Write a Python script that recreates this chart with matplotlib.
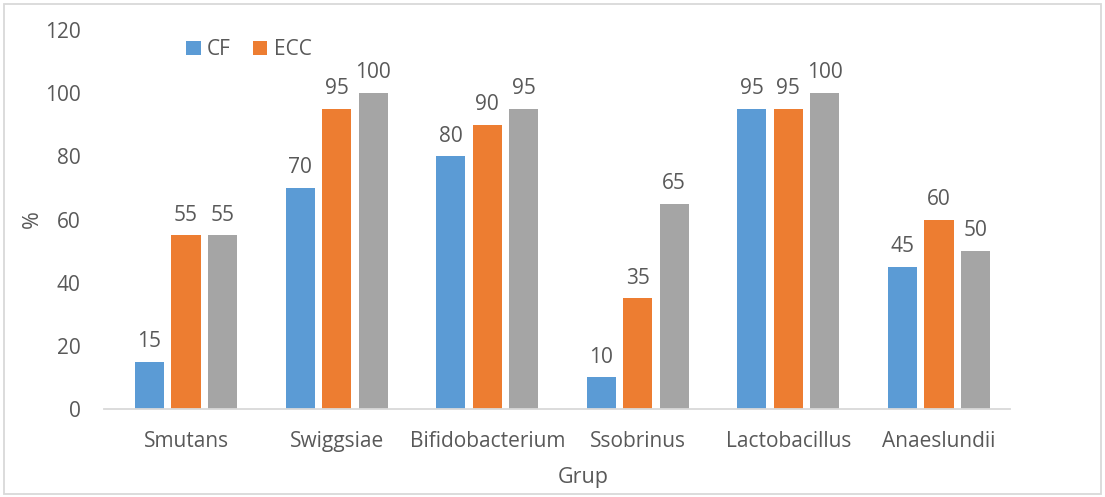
import numpy as np
import matplotlib.pyplot as plt
from matplotlib.patches import Rectangle

plt.rcParams['font.family'] = ['Open Sans', 'DejaVu Sans']

groups = ['Smutans', 'Swiggsiae', 'Bifidobacterium', 'Ssobrinus', 'Lactobacillus', 'Anaeslundii']
cf = [15, 70, 80, 10, 95, 45]
ecc = [55, 95, 90, 35, 95, 60]
third = [55, 100, 95, 65, 100, 50]

series = [('CF', cf, '#5B9BD5'), ('ECC', ecc, '#ED7D31'), (None, third, '#A5A5A5')]
txt = '#595959'

fig = plt.figure(figsize=(11.05, 4.97), dpi=100)
ax = fig.add_axes([104 / 1105, 88 / 497, 906 / 1105, 379 / 497])

x = np.arange(len(groups))
pitch = 0.242
width = 0.193
for i, (name, vals, col) in enumerate(series):
    pos = x + (i - 1) * pitch
    bars = ax.bar(pos, vals, width, color=col, label=name if name else '_nolegend_')
    for b, v in zip(bars, vals):
        ax.annotate(str(v), (b.get_x() + b.get_width() / 2, v), xytext=(0, 7),
                    textcoords='offset points', ha='center', va='bottom',
                    fontsize=15, color=txt)

ax.set_xlim(-0.5445, 5.4715)
ax.set_ylim(0, 120)
ax.set_yticks(range(0, 121, 20))
ax.set_xticks(x)
ax.set_xticklabels(groups)
ax.tick_params(axis='both', length=0, labelsize=15, colors=txt)
ax.tick_params(axis='x', pad=16)
ax.tick_params(axis='y', pad=17)
for s in ['top', 'right', 'left']:
    ax.spines[s].set_visible(False)
ax.spines['bottom'].set_color('#D9D9D9')
ax.spines['bottom'].set_linewidth(1.3)

ax.set_xlabel('Grup', fontsize=15.5, color=txt)
ax.set_ylabel('%', fontsize=15.5, color=txt)
ax.xaxis.set_label_coords(0.529, -0.153)
ax.yaxis.set_label_coords(-0.068, 0.5)

ax.legend(loc='upper left', bbox_to_anchor=(0.07, 1.025), ncol=2, frameon=False,
          fontsize=15, labelcolor=txt, handlelength=0.7, handleheight=0.7,
          handletextpad=0.3, columnspacing=1.05)

fig.patches.append(Rectangle((0.004, 0.006), 0.992, 0.986, transform=fig.transFigure,
                             fill=False, edgecolor='#D9D9D9', linewidth=1.3))

fig.savefig('out.png', dpi=100)
